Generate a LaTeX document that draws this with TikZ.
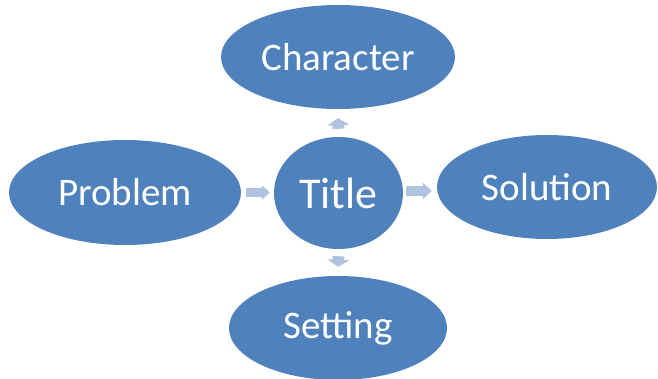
\documentclass[tikz,border=0pt]{standalone}
\usepackage{fontspec}
\setmainfont{Carlito}
\usetikzlibrary{shapes.geometric,arrows.meta}
\definecolor{blobblue}{HTML}{4F81BD}
\definecolor{arrowblue}{HTML}{AFC2DF}
\tikzset{
  blob/.style={ellipse, fill=blobblue, draw=none, inner sep=0pt, text=white, font=\fontsize{39}{44}\selectfont},
  blockarrow/.style={draw=arrowblue, line cap=butt, -{Triangle[fill=arrowblue]}},
}
\begin{document}
\begin{tikzpicture}[x=1pt,y=-1pt]
\useasboundingbox (0,0) rectangle (658,379);
\node[blob, minimum width=234pt, minimum height=104pt] (char) at (338,57) {Character};
\node[blob, minimum width=129pt, minimum height=112pt, font=\fontsize{44}{50}\selectfont] (title) at (338.5,193) {Title};
\node[blob, minimum width=232pt, minimum height=105pt] (problem) at (125,192.5) {Problem};
\node[blob, minimum width=220pt, minimum height=104pt] (solution) at (547,187) {Solution};
\node[blob, minimum width=218pt, minimum height=104pt] (setting) at (338,328) {Setting};
\draw[blockarrow, line width=12pt, arrows={-Triangle[width=22pt,length=7pt]}] ([yshift=8pt]title.north) -- ([yshift=-9pt]char.south);
\draw[blockarrow, line width=12pt, arrows={-Triangle[width=22pt,length=7pt]}] ([yshift=-7pt]title.south) -- ([yshift=9pt]setting.north);
\draw[blockarrow, line width=9pt, arrows={-Triangle[width=14pt,length=8pt]}] ([xshift=5pt]problem.east) -- ([xshift=-4pt]problem.east -| title.west);
\draw[blockarrow, line width=10pt, arrows={-Triangle[width=16pt,length=9pt]}] ([xshift=3pt,yshift=2pt]title.east) -- ([xshift=-5pt,yshift=2pt]title.east -| solution.west);
\end{tikzpicture}
\end{document}
